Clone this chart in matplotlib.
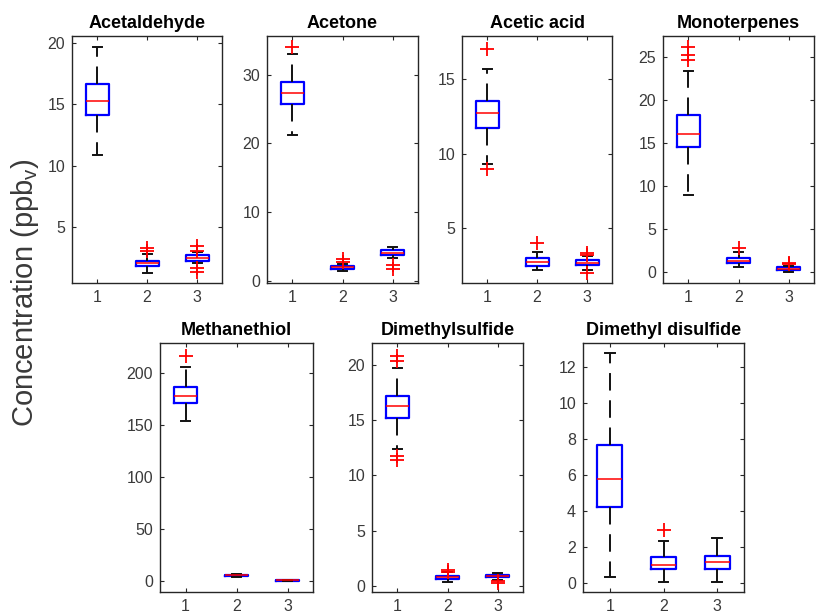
import matplotlib
matplotlib.use("Agg")
import matplotlib.pyplot as plt

plt.rcParams['font.family'] = ['Liberation Sans', 'DejaVu Sans']

W, H = 817, 613

titles = ["Acetaldehyde", "Acetone", "Acetic acid", "Monoterpenes",
          "Methanethiol", "Dimethylsulfide", "Dimethyl disulfide"]
groups = [1, 2, 3]

# Box summaries per compound, one entry per group: (whislo, q1, med, q3, whishi)
acetaldehyde = [(10.9, 14.15, 15.25, 16.64, 19.7), (1.23, 1.83, 2.07, 2.24, 2.8), (2.0, 2.24, 2.45, 2.65, 2.9)]
acetone = [(21.2, 25.8, 27.3, 28.9, 33.06), (1.45, 1.75, 2.0, 2.18, 2.56), (3.4, 3.8, 4.1, 4.5, 5.0)]
acetic_acid = [(9.33, 11.73, 12.71, 13.56, 15.67), (2.16, 2.45, 2.71, 2.96, 3.4), (2.2, 2.51, 2.67, 2.85, 3.1)]
monoterpenes = [(9.0, 14.5, 16.05, 18.3, 23.4), (0.58, 1.09, 1.3, 1.56, 2.3), (0.02, 0.2, 0.35, 0.51, 0.7)]
methanethiol = [(153.8, 171.2, 177.6, 186.5, 205.8), (3.5, 4.2, 5.0, 5.8, 6.5), (0.0, 0.0, 0.1, 0.3, 0.4)]
dimethylsulfide = [(12.4, 15.2, 16.3, 17.23, 19.7), (0.35, 0.65, 0.78, 0.9, 1.2), (0.55, 0.75, 0.88, 1.0, 1.15)]
dimethyl_disulfide = [(0.30, 4.2, 5.76, 7.67, 12.78), (0.06, 0.74, 0.98, 1.41, 2.32), (0.06, 0.74, 1.13, 1.5, 2.48)]

# Outlier values per compound and group
acetaldehyde_out = [[], [3.3, 3.0], [3.45, 3.05, 1.66, 1.3]]
acetone_out = [[34.0], [2.8, 3.2], [2.4, 1.8]]
acetic_acid_out = [[17.0, 8.93], [3.96], [3.33, 3.2, 2.0]]
monoterpenes_out = [[26.16, 25.3, 24.7], [2.8], [0.9, 1.0]]
methanethiol_out = [[216.3], [], []]
dimethylsulfide_out = [[20.81, 20.36, 11.8, 11.4], [1.4, 1.25], [0.4, 0.25]]
dimethyl_disulfide_out = [[], [2.93], []]

summaries = [acetaldehyde, acetone, acetic_acid, monoterpenes,
             methanethiol, dimethylsulfide, dimethyl_disulfide]
outliers = [acetaldehyde_out, acetone_out, acetic_acid_out, monoterpenes_out,
            methanethiol_out, dimethylsulfide_out, dimethyl_disulfide_out]

ylims = [(0.4, 20.6), (-0.25, 35.6), (1.3, 17.9), (-1.3, 27.5),
         (-11, 228.5), (-0.57, 22.0), (-0.52, 13.35)]
yticks = [[5, 10, 15, 20], [0, 10, 20, 30], [5, 10, 15], [0, 5, 10, 15, 20, 25],
          [0, 50, 100, 150, 200], [0, 5, 10, 15, 20], [0, 2, 4, 6, 8, 10, 12]]

# Axes boxes in pixels: (left, right, top, bottom)
boxes_px = [(72, 222, 36, 283), (267, 418, 36, 283), (462, 612, 36, 283), (663, 814, 36, 283),
            (160, 313, 343, 592), (372, 523, 343, 592), (583, 744, 343, 592)]

fig = plt.figure(figsize=(W / 100, H / 100), dpi=100)

txt = '#3a3a3a'
for i in range(7):
    l, r, t, b = boxes_px[i]
    ax = fig.add_axes([l / W, 1 - b / H, (r - l) / W, (b - t) / H])
    stats = []
    for g, (lo, q1, med, q3, hi) in enumerate(summaries[i]):
        stats.append(dict(whislo=lo, q1=q1, med=med, q3=q3, whishi=hi,
                          fliers=outliers[i][g], label=str(groups[g])))
    ax.bxp(stats, positions=groups, widths=0.46, capwidths=0.18,
           boxprops=dict(color='#0000ff', linewidth=1.6),
           medianprops=dict(color='#ff0000', linewidth=1.1),
           whiskerprops=dict(color='#111111', linewidth=1.4, linestyle=(0, (9, 5))),
           capprops=dict(color='#111111', linewidth=1.4),
           flierprops=dict(marker='+', markeredgecolor='#ff0000', markersize=10,
                           markeredgewidth=1.3, linestyle='none'))
    ax.set_xlim(0.5, 3.5)
    ax.set_ylim(*ylims[i])
    ax.set_yticks(yticks[i])
    ax.set_xticks(groups)
    ax.set_xticklabels([str(g) for g in groups])
    ax.tick_params(direction='in', top=True, right=True, length=3, width=0.8,
                   colors='#262626', labelcolor=txt, labelsize=11.5, pad=5)
    for s in ax.spines.values():
        s.set_color('#262626')
        s.set_linewidth(1.0)
    ax.set_title(titles[i], fontsize=13, fontweight='bold', color='#000000', pad=6)

fig.text(25 / W, 1 - 293 / H, 'Concentration (ppb$_{\\mathregular{v}}$)',
         rotation=90, ha='center', va='center', fontsize=21, color='#3a3a3a')

fig.savefig('out.png', dpi=100)
